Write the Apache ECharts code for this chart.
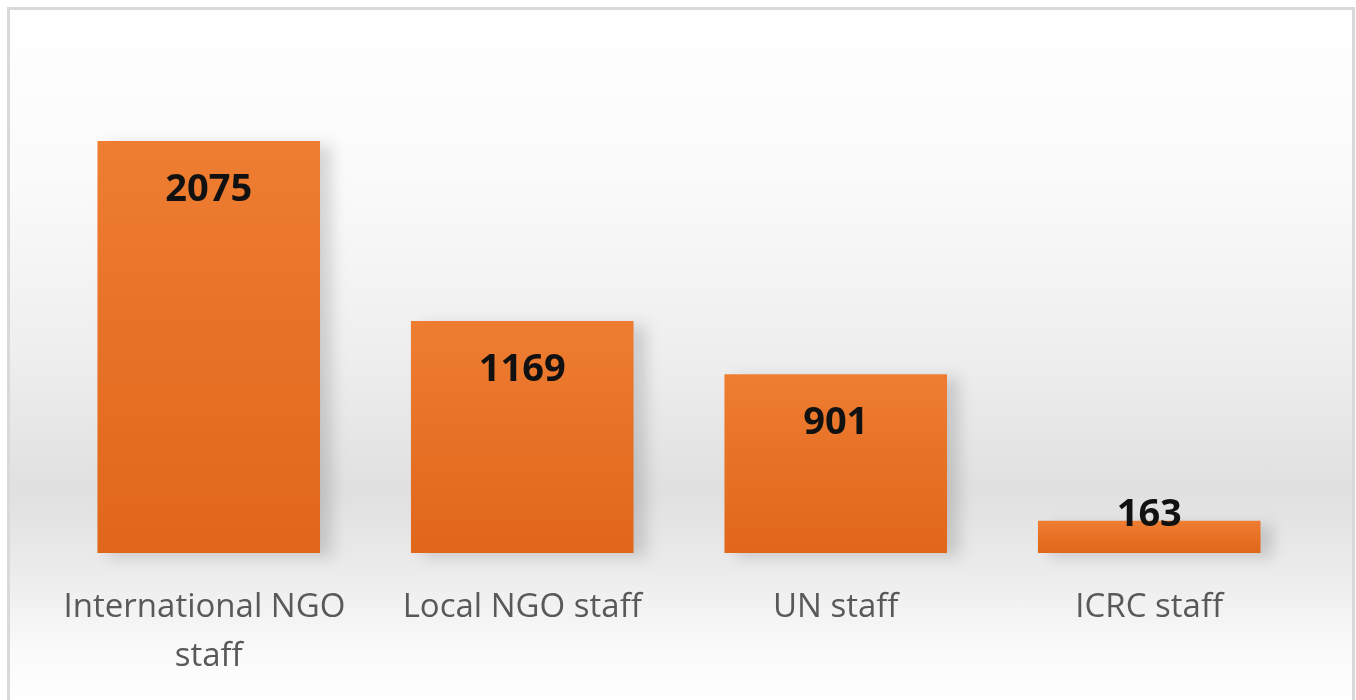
<!DOCTYPE html>
<html>
<head>
<meta charset="utf-8">
<script src="https://cdn.jsdelivr.net/npm/echarts@6/dist/echarts.min.js"></script>
<style>
  html, body { margin: 0; padding: 0; background: #ffffff; }
  #frame {
    position: absolute; left: 7px; top: 7px; width: 1348px; height: 700px;
    border: 3px solid #d9d9d9; border-bottom: none; box-sizing: border-box;
    background: linear-gradient(to bottom, #ffffff 0%, #fafafa 25%, #eeeeee 50%, #e0e0e0 69%, #ebebeb 80%, #fafafa 92%, #ffffff 100%);
  }
  #chart { position: absolute; left: 0; top: 0; width: 1356px; height: 700px; }
</style>
</head>
<body>
<div id="frame"></div>
<div id="chart"></div>
<script>
// staff groups and counts
const categories = ['International NGO staff', 'Local NGO staff', 'UN staff', 'ICRC staff'];
const staffCounts = [2075, 1169, 901, 163];

const chart = echarts.init(document.getElementById('chart'));

const barData = staffCounts.map((v) => {
  // the smallest bar is too short for the label, it sits across the top edge
  if (v < 400) {
    return { value: v, label: { position: 'top', distance: -14 } };
  }
  return v;
});

chart.setOption({
  backgroundColor: 'transparent',
  animation: false,
  grid: { left: 52, right: 50, top: 25, bottom: 147 },
  xAxis: {
    type: 'category',
    data: categories,
    axisLine: { show: false },
    axisTick: { show: false },
    axisLabel: {
      color: '#595959',
      fontFamily: 'Open Sans',
      fontSize: 33,
      lineHeight: 49,
      margin: 30,
      width: 300,
      overflow: 'break',
      interval: 0
    }
  },
  yAxis: {
    type: 'value',
    min: 0,
    max: 2660,
    show: false,
    splitLine: { show: false }
  },
  series: [
    {
      type: 'bar',
      data: barData,
      barWidth: '71%',
      itemStyle: {
        color: new echarts.graphic.LinearGradient(0, 0, 0, 1, [
          { offset: 0, color: '#ee7d32' },
          { offset: 1, color: '#e0661a' }
        ]),
        shadowColor: 'rgba(0, 0, 0, 0.14)',
        shadowBlur: 14,
        shadowOffsetX: 12,
        shadowOffsetY: 4
      },
      label: {
        show: true,
        position: 'insideTop',
        distance: 30,
        color: '#111111',
        fontFamily: 'Open Sans',
        fontWeight: 'bold',
        fontSize: 38
      }
    }
  ]
});
</script>
</body>
</html>
